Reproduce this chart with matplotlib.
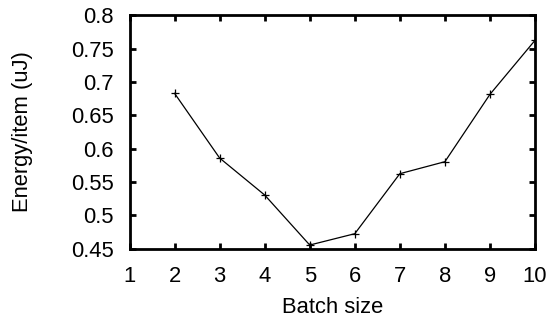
import matplotlib
matplotlib.use("Agg")
import matplotlib.pyplot as plt

# data
batch_size = [2, 3, 4, 5, 6, 7, 8, 9, 10]
energy_uj = [0.683, 0.586, 0.5305, 0.4555, 0.4725, 0.5625, 0.5805, 0.6815, 0.7625]

x_ticks = [1, 2, 3, 4, 5, 6, 7, 8, 9, 10]
y_ticks = [0.45, 0.5, 0.55, 0.6, 0.65, 0.7, 0.75, 0.8]
y_labels = ["0.45", "0.5", "0.55", "0.6", "0.65", "0.7", "0.75", "0.8"]

plt.rcParams["font.family"] = ["Liberation Sans", "DejaVu Sans"]
fs = 15.8

fig = plt.figure(figsize=(5.54, 3.2), dpi=100)
ax = fig.add_axes([0.2338, 0.2228, 0.9657 - 0.2338, 0.952 - 0.2228])

ax.plot(batch_size, energy_uj, color="black", linewidth=0.9,
        marker="+", markersize=5.5, markeredgewidth=0.9)

ax.set_xlim(1, 10)
ax.set_ylim(0.45, 0.8)
ax.set_xticks(x_ticks)
ax.set_yticks(y_ticks)
ax.set_yticklabels(y_labels)

for s in ax.spines.values():
    s.set_linewidth(2)
ax.tick_params(direction="in", length=4.5, width=2, top=True, right=True,
               labelsize=fs)
ax.tick_params(axis="x", pad=12.5)
ax.tick_params(axis="y", pad=11.5)

ax.set_xlabel("Batch size", fontsize=fs)
ax.set_ylabel("Energy/item (uJ)", fontsize=fs)
ax.xaxis.set_label_coords(0.5, -0.205)
ax.yaxis.set_label_coords(-0.237, 0.5)

fig.savefig("out.png", dpi=100)
